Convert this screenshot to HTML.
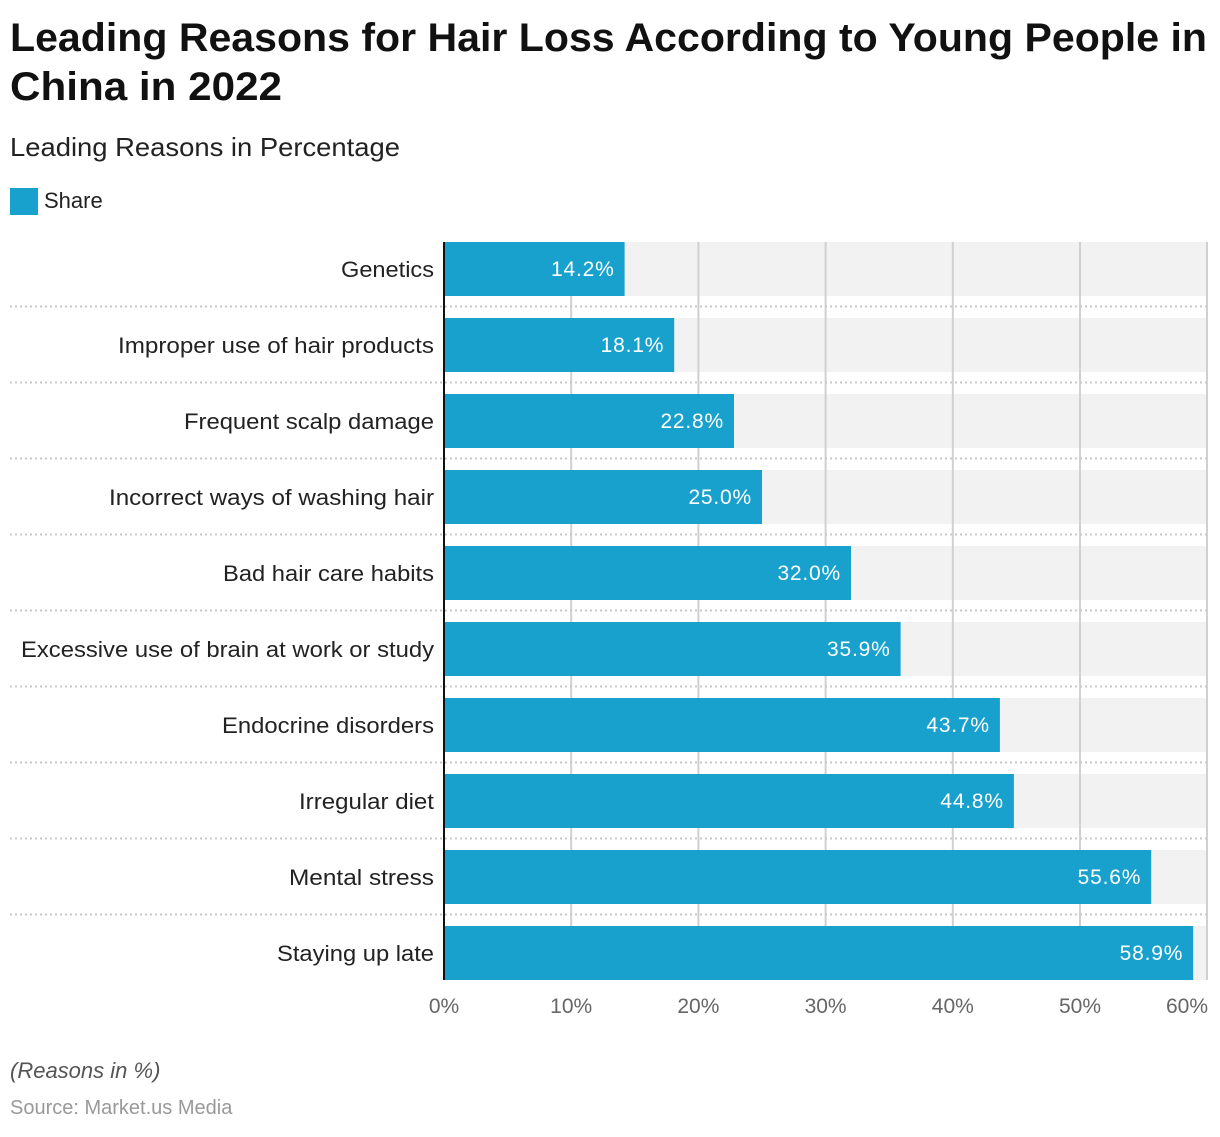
<!DOCTYPE html>
<html><head><meta charset="utf-8"><style>
body{margin:0;background:#fff;width:1220px;height:1132px;overflow:hidden}
</style></head><body>
<svg width="1220" height="1132" xmlns="http://www.w3.org/2000/svg" font-family="Liberation Sans, sans-serif">
<text x="10" y="51" font-size="40" font-weight="bold" fill="#111" textLength="1197" lengthAdjust="spacingAndGlyphs">Leading Reasons for Hair Loss According to Young People in</text>
<text x="10" y="100" font-size="40" font-weight="bold" fill="#111" textLength="272" lengthAdjust="spacingAndGlyphs">China in 2022</text>
<text x="10" y="156" font-size="26" fill="#222" textLength="390" lengthAdjust="spacingAndGlyphs">Leading Reasons in Percentage</text>
<rect x="10" y="188" width="28" height="27" fill="#19a1cd"/>
<text x="44" y="208" font-size="22" fill="#222">Share</text>
<g fill="#f2f2f2">
<rect x="445" y="242" width="762" height="54"/><rect x="445" y="318" width="762" height="54"/><rect x="445" y="394" width="762" height="54"/><rect x="445" y="470" width="762" height="54"/><rect x="445" y="546" width="762" height="54"/><rect x="445" y="622" width="762" height="54"/><rect x="445" y="698" width="762" height="54"/><rect x="445" y="774" width="762" height="54"/><rect x="445" y="850" width="762" height="54"/><rect x="445" y="926" width="762" height="54"/>
</g>
<g stroke="#d0d0d0" stroke-width="2">
<line x1="571.2" y1="242" x2="571.2" y2="980"/><line x1="698.4" y1="242" x2="698.4" y2="980"/><line x1="825.6" y1="242" x2="825.6" y2="980"/><line x1="952.8" y1="242" x2="952.8" y2="980"/><line x1="1080" y1="242" x2="1080" y2="980"/><line x1="1207" y1="242" x2="1207" y2="980"/>
</g>
<g stroke="#c8c8c8" stroke-width="2" stroke-dasharray="2,3">
<line x1="10" y1="306.5" x2="1207" y2="306.5"/><line x1="10" y1="382.5" x2="1207" y2="382.5"/><line x1="10" y1="458.5" x2="1207" y2="458.5"/><line x1="10" y1="534.5" x2="1207" y2="534.5"/><line x1="10" y1="610.5" x2="1207" y2="610.5"/><line x1="10" y1="686.5" x2="1207" y2="686.5"/><line x1="10" y1="762.5" x2="1207" y2="762.5"/><line x1="10" y1="838.5" x2="1207" y2="838.5"/><line x1="10" y1="914.5" x2="1207" y2="914.5"/>
</g>
<g fill="#19a1cd">
<rect x="445" y="242" width="179.6" height="54"/><rect x="445" y="318" width="229.2" height="54"/><rect x="445" y="394" width="289" height="54"/><rect x="445" y="470" width="317" height="54"/><rect x="445" y="546" width="406" height="54"/><rect x="445" y="622" width="455.6" height="54"/><rect x="445" y="698" width="554.9" height="54"/><rect x="445" y="774" width="568.9" height="54"/><rect x="445" y="850" width="706.2" height="54"/><rect x="445" y="926" width="748.2" height="54"/>
</g>
<g font-size="22" text-anchor="end" fill="#222" lengthAdjust="spacingAndGlyphs">
<text x="434" y="277" textLength="93" lengthAdjust="spacingAndGlyphs">Genetics</text>
<text x="434" y="353" textLength="316" lengthAdjust="spacingAndGlyphs">Improper use of hair products</text>
<text x="434" y="429" textLength="250" lengthAdjust="spacingAndGlyphs">Frequent scalp damage</text>
<text x="434" y="505" textLength="325" lengthAdjust="spacingAndGlyphs">Incorrect ways of washing hair</text>
<text x="434" y="581" textLength="211" lengthAdjust="spacingAndGlyphs">Bad hair care habits</text>
<text x="434" y="657" textLength="413" lengthAdjust="spacingAndGlyphs">Excessive use of brain at work or study</text>
<text x="434" y="733" textLength="212" lengthAdjust="spacingAndGlyphs">Endocrine disorders</text>
<text x="434" y="809" textLength="135" lengthAdjust="spacingAndGlyphs">Irregular diet</text>
<text x="434" y="885" textLength="145" lengthAdjust="spacingAndGlyphs">Mental stress</text>
<text x="434" y="961" textLength="157" lengthAdjust="spacingAndGlyphs">Staying up late</text>
</g>
<g font-size="21" text-anchor="end" fill="#fff" letter-spacing="0.8">
<text x="614.6" y="276">14.2%</text>
<text x="664.2" y="352">18.1%</text>
<text x="724" y="428">22.8%</text>
<text x="752" y="504">25.0%</text>
<text x="841" y="580">32.0%</text>
<text x="890.6" y="656">35.9%</text>
<text x="989.9" y="732">43.7%</text>
<text x="1003.9" y="808">44.8%</text>
<text x="1141.2" y="884">55.6%</text>
<text x="1183.2" y="960">58.9%</text>
</g>
<line x1="444" y1="242" x2="444" y2="980" stroke="#111" stroke-width="2"/>
<g font-size="21" fill="#666" text-anchor="middle">
<text x="444" y="1013">0%</text>
<text x="571.2" y="1013">10%</text>
<text x="698.4" y="1013">20%</text>
<text x="825.6" y="1013">30%</text>
<text x="952.8" y="1013">40%</text>
<text x="1080" y="1013">50%</text>
<text x="1208" y="1013" text-anchor="end">60%</text>
</g>
<text x="10" y="1078" font-size="22" font-style="italic" fill="#555">(Reasons in %)</text>
<text x="10" y="1114" font-size="20" fill="#999">Source: Market.us Media</text>
</svg>
</body></html>
